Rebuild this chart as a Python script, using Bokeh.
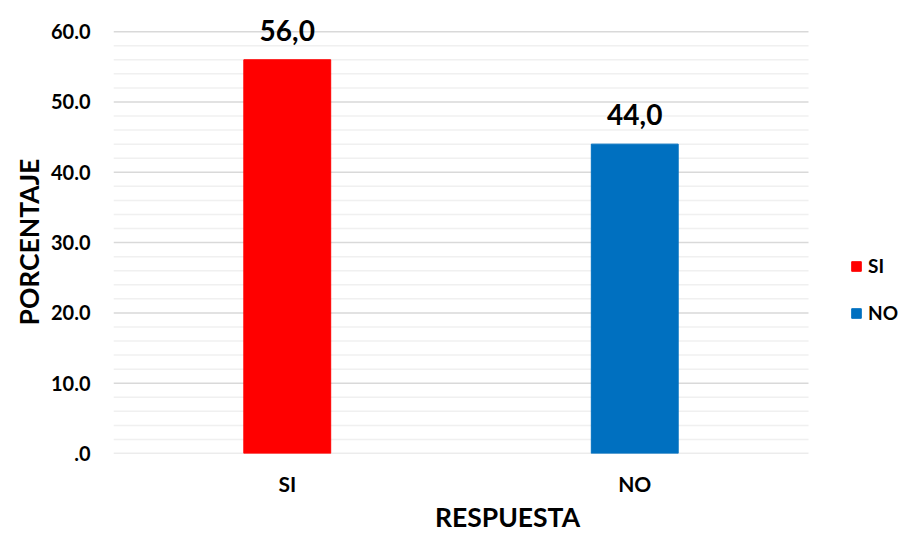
from bokeh.plotting import figure
from bokeh.models import Range1d, FixedTicker, Legend, LegendItem, ColumnDataSource, Title
from bokeh.core.properties import value
from bokeh.embed import file_html
from bokeh.resources import INLINE

# Survey answers and their percentages
categories = ["SI", "NO"]
percentages = [56.0, 44.0]
colors = ["#FF0000", "#0070C0"]
value_labels = ["56,0", "44,0"]

y_ticks = [0, 10, 20, 30, 40, 50, 60]
y_tick_labels = [".0", "10.0", "20.0", "30.0", "40.0", "50.0", "60.0"]
y_minor = [v for v in range(0, 61, 2) if v % 10 != 0]

FONT = "Lato"

# one unit of x per category, bars centred in their slot
x_pos = [i + 0.5 for i in range(len(categories))]
n_cat = len(categories)

source = ColumnDataSource(dict(x=x_pos, cat=categories, pct=percentages,
                               color=colors, label=value_labels))

p = figure(
    width=901, height=536,
    x_range=Range1d(0, n_cat * 788 / 695),
    y_range=Range1d(0, 64),
    output_backend="svg", toolbar_location=None,
    min_border_left=113, min_border_right=0, min_border_top=3, min_border_bottom=83,
)
p.title.visible = False
p.outline_line_color = None
p.xgrid.grid_line_color = None
p.ygrid.grid_line_color = None

# horizontal gridlines limited to the category slots
p.segment(x0=0, x1=n_cat, y0=y_minor, y1=y_minor, line_color="#F0F0F0", line_width=1.5)
p.segment(x0=0, x1=n_cat, y0=y_ticks, y1=y_ticks, line_color="#D9D9D9", line_width=1.5)

bars = p.vbar(x="x", top="pct", width=0.25, color="color", source=source)

p.text(x="x", y="pct", text="label", source=source,
       text_align="center", text_baseline="bottom", y_offset=-19,
       text_font=value(FONT), text_font_style="bold", text_font_size="28px",
       text_color="#000000")

p.yaxis.ticker = FixedTicker(ticks=y_ticks, minor_ticks=[])
p.yaxis.major_label_overrides = {t: l for t, l in zip(y_ticks, y_tick_labels)}

p.xaxis.ticker = FixedTicker(ticks=x_pos, minor_ticks=[])
p.xaxis.major_label_overrides = {x: c for x, c in zip(x_pos, categories)}
p.xaxis.axis_label = "RESPUESTA"

for ax in (p.xaxis[0], p.yaxis[0]):
    ax.axis_line_color = None
    ax.major_tick_line_color = None
    ax.minor_tick_line_color = None
    ax.major_label_text_font = FONT
    ax.major_label_text_font_style = "bold"
    ax.major_label_text_color = "#000000"
    ax.axis_label_text_font = FONT
    ax.axis_label_text_font_style = "bold"
    ax.axis_label_text_font_size = "26.5px"
    ax.axis_label_text_color = "#000000"

p.yaxis.major_label_text_font_size = "20px"
p.xaxis.major_label_text_font_size = "21px"
p.yaxis.major_label_standoff = 17
p.xaxis.major_label_standoff = 11
p.xaxis.axis_label_standoff = 2

# y-axis title, centred on the 0-60 span of the scale
y_title = Title(text="PORCENTAJE", align="left", offset=128, standoff=6,
                text_font=FONT, text_font_style="bold", text_font_size="26.5px",
                text_color="#000000")
p.add_layout(y_title, "left")

legend = Legend(
    items=[LegendItem(label=c, renderers=[bars], index=i) for i, c in enumerate(categories)],
    location=(737, 129),
    glyph_width=12, glyph_height=12, label_height=20, spacing=24,
    padding=0, margin=0, label_standoff=6,
    border_line_color=None, background_fill_alpha=0,
    label_text_font=FONT, label_text_font_style="bold", label_text_font_size="19px",
    label_text_color="#000000",
)
p.add_layout(legend, "center")

open("out.html", "w").write(file_html(p, INLINE))
